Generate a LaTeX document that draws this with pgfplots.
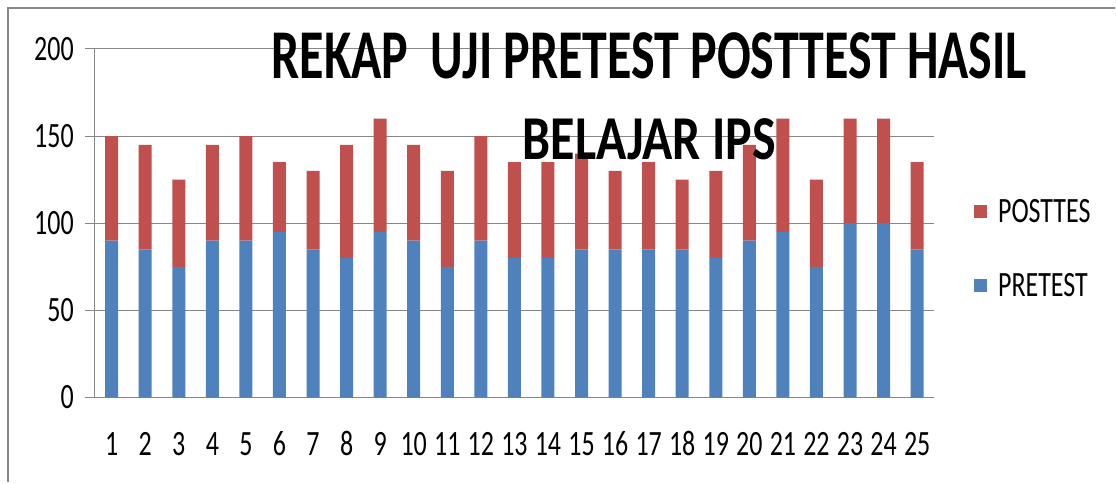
\documentclass[border=0pt]{standalone}
\usepackage{pgfplots}
\pgfplotsset{compat=1.18}
\usepackage{fontspec}
\setmainfont{Carlito}
\definecolor{cpre}{HTML}{4F81BD}
\definecolor{cpost}{HTML}{C0504D}
\definecolor{cgrid}{HTML}{878787}
\newcommand{\sy}[1]{\scalebox{1}[1.37]{#1}}
\begin{document}
\begin{tikzpicture}[x=1pt,y=1pt]
\path (0,0) rectangle (1116,483);
\draw[cgrid,line width=2.5pt] (8,0) -- (8,475) -- (1116,475);
\begin{axis}[
  at={(95pt,85pt)}, anchor=south west,
  scale only axis, width=840pt, height=349pt,
  ybar stacked, bar width=13pt,
  xmin=0.5, xmax=25.5, ymin=0, ymax=200,
  xtick={1,...,25},
  minor xtick={0.5,1.5,...,25.5},
  ytick={0,50,...,200},
  axis x line*=bottom, axis y line*=left,
  axis line style={cgrid, line width=1pt, -},
  tick align=outside,
  major tick length=10pt, minor tick length=10pt,
  xtick style={draw=none},
  every tick/.style={cgrid, line width=1pt},
  minor tick style={cgrid, line width=1pt},
  ymajorgrids, grid style={cgrid, line width=1pt},
  /pgf/number format/assume math mode=true,
  xticklabel={\sy{\pgfmathprintnumber{\tick}}},
  yticklabel={\sy{\pgfmathprintnumber{\tick}}},
  xticklabel style={font=\fontsize{26}{26}\selectfont, anchor=base, inner sep=0pt, yshift=-48pt},
  yticklabel style={font=\fontsize{26}{26}\selectfont, anchor=east, inner sep=0pt, xshift=-11pt},
  legend style={at={(rel axis cs:1,0.427)}, anchor=west, xshift=40pt, draw=none, fill=none,
    font=\fontsize{26}{26}\selectfont, inner sep=0pt, row sep=46pt},
  legend cell align=left,
  reverse legend,
  legend image code/.code={\fill[#1] (0pt,-6.5pt) rectangle (13pt,6.5pt);},
  clip=false,
]
\addplot[fill=cpre, draw=none] coordinates {
(1,90) (2,85) (3,75) (4,90) (5,90) (6,95) (7,85) (8,80) (9,95) (10,90)
(11,75) (12,90) (13,80) (14,80) (15,85) (16,85) (17,85) (18,85) (19,80) (20,90)
(21,95) (22,75) (23,100) (24,100) (25,85)};
\addlegendentry{\hspace{9pt}\sy{PRETEST}}
\addplot[fill=cpost, draw=none] coordinates {
(1,60) (2,60) (3,50) (4,55) (5,60) (6,40) (7,45) (8,65) (9,65) (10,55)
(11,55) (12,60) (13,55) (14,55) (15,55) (16,45) (17,50) (18,40) (19,50) (20,55)
(21,65) (22,50) (23,60) (24,60) (25,50)};
\addlegendentry{\hspace{9pt}\sy{POSTTES}}
\end{axis}
\node[inner sep=0pt] at (650,427) {\scalebox{1}[1.4]{\fontsize{50}{50}\selectfont\bfseries REKAP\ \ UJI PRETEST POSTTEST HASIL}};
\node[inner sep=0pt] at (650,344) {\scalebox{1}[1.25]{\fontsize{50}{50}\selectfont\bfseries BELAJAR IPS}};
\end{tikzpicture}
\end{document}
